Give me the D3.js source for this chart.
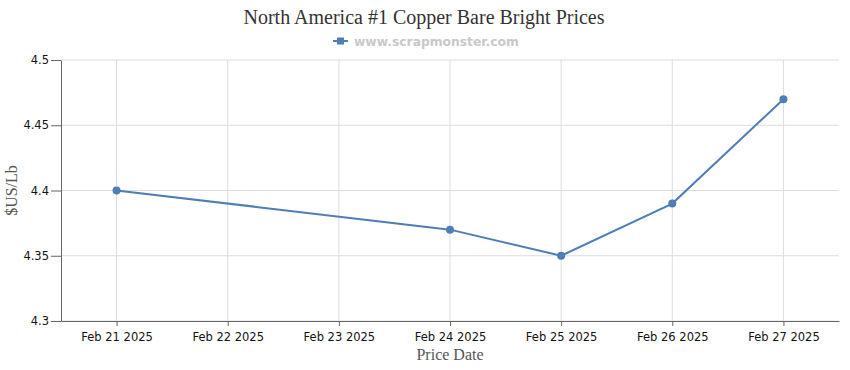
<!DOCTYPE html>
<html>
<head>
<meta charset="utf-8">
<script src="https://cdnjs.cloudflare.com/ajax/libs/d3/7.8.5/d3.min.js"></script>
<style>
  body { margin: 0; background: #fff; }
  svg { display: block; }
</style>
</head>
<body>
<svg id="chart"></svg>
<script>
const dates = ["2025-02-21", "2025-02-24", "2025-02-25", "2025-02-26", "2025-02-27"];
const prices = [4.40, 4.37, 4.35, 4.39, 4.47];
const yTicks = [4.3, 4.35, 4.4, 4.45, 4.5];

const width = 850, height = 370;
const margin = { top: 60, right: 11, bottom: 49, left: 61 };
const lineColor = "#4f7db7";

const parse = d3.utcParse("%Y-%m-%d");
const points = dates.map((d, i) => ({ date: parse(d), value: prices[i] }));
const halfDay = 12 * 3600 * 1000;

const svg = d3.select("#chart").attr("width", width).attr("height", height);

const x = d3.scaleUtc()
  .domain([new Date(+points[0].date - halfDay), new Date(+points[points.length - 1].date + halfDay)])
  .range([margin.left, width - margin.right]);

const y = d3.scaleLinear()
  .domain([4.3, 4.5])
  .range([height - margin.bottom, margin.top]);

const xTicks = d3.utcDay.range(points[0].date, new Date(+points[points.length - 1].date + halfDay));

// grid
svg.append("g")
  .selectAll("line")
  .data(yTicks)
  .join("line")
  .attr("x1", margin.left).attr("x2", width - margin.right)
  .attr("y1", d => y(d)).attr("y2", d => y(d))
  .attr("stroke", "#ddd");

svg.append("g")
  .selectAll("line")
  .data(xTicks)
  .join("line")
  .attr("x1", d => x(d)).attr("x2", d => x(d))
  .attr("y1", margin.top).attr("y2", height - margin.bottom)
  .attr("stroke", "#ddd");

// axes
const xAxis = svg.append("g")
  .attr("transform", "translate(0," + (height - margin.bottom) + ")")
  .call(d3.axisBottom(x).tickValues(xTicks).tickFormat(d3.utcFormat("%b %d %Y")).tickSize(5).tickSizeOuter(0));

const yAxis = svg.append("g")
  .attr("transform", "translate(" + margin.left + ",0)")
  .call(d3.axisLeft(y).tickValues(yTicks).tickFormat(d => d3.format("")(+d.toFixed(2))).tickSize(10).tickSizeOuter(0));

[xAxis, yAxis].forEach(a => {
  a.select(".domain").attr("stroke", "#666");
  a.selectAll(".tick line").attr("stroke", "#666");
  a.selectAll(".tick text")
    .attr("fill", "#111")
    .style("font", "11.5px 'DejaVu Sans', sans-serif");
});
xAxis.selectAll(".tick text").attr("dy", "1.05em");
yAxis.selectAll(".tick text").attr("x", -12);

// line
svg.append("path")
  .datum(points)
  .attr("fill", "none")
  .attr("stroke", lineColor)
  .attr("stroke-width", 2)
  .attr("d", d3.line().x(d => x(d.date)).y(d => y(d.value)));

svg.append("g")
  .selectAll("circle")
  .data(points)
  .join("circle")
  .attr("cx", d => x(d.date))
  .attr("cy", d => y(d.value))
  .attr("r", 4)
  .attr("fill", lineColor);

// title
svg.append("text")
  .attr("x", width / 2 - 1).attr("y", 24)
  .attr("text-anchor", "middle")
  .attr("fill", "#333")
  .style("font", "20px 'Liberation Serif', serif")
  .text("North America #1 Copper Bare Bright Prices");

// legend
const legend = svg.append("g").attr("transform", "translate(333,41)");
legend.append("line").attr("x1", 0).attr("x2", 15).attr("stroke", lineColor).attr("stroke-width", 2);
legend.append("rect").attr("x", 4).attr("y", -3.5).attr("width", 7).attr("height", 7).attr("fill", lineColor);
legend.append("text")
  .attr("x", 21).attr("y", 4.5)
  .attr("fill", "#c8c8c8")
  .style("font", "bold 12.3px 'DejaVu Sans', sans-serif")
  .text("www.scrapmonster.com");

// axis titles
svg.append("text")
  .attr("x", (margin.left + width - margin.right) / 2).attr("y", 360)
  .attr("text-anchor", "middle")
  .attr("fill", "#555")
  .style("font", "16px 'Liberation Serif', serif")
  .text("Price Date");

svg.append("text")
  .attr("transform", "translate(17," + ((margin.top + height - margin.bottom) / 2) + ") rotate(-90)")
  .attr("text-anchor", "middle")
  .attr("fill", "#555")
  .style("font", "16px 'Liberation Serif', serif")
  .text("$US/Lb");
</script>
</body>
</html>
